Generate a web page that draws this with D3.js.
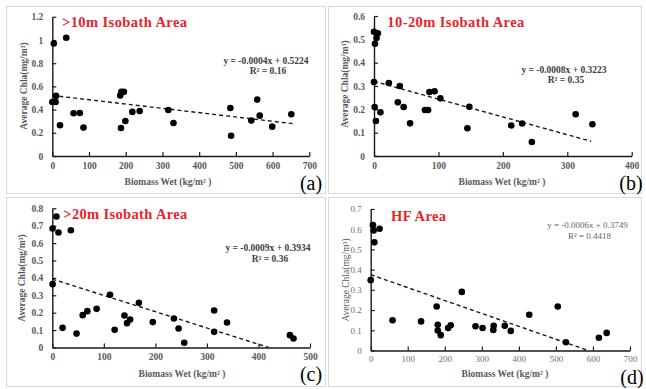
<!DOCTYPE html>
<html>
<head>
<meta charset="utf-8">
<script src="https://cdn.jsdelivr.net/npm/d3@7"></script>
<style>
  html, body { margin: 0; padding: 0; background: #fff; }
  svg { display: block; }
</style>
</head>
<body>
<svg id="chart" width="646" height="389"></svg>
<script>
// ---------------- DATA ----------------
const panelLabels = ["(a)", "(b)", "(c)", "(d)"];
const panelTitles = [">10m Isobath Area", "10-20m Isobath Area", ">20m Isobath Area", "HF Area"];
const equations = ["y = -0.0004x + 0.5224", "y = -0.0008x + 0.3223", "y = -0.0009x + 0.3934", "y = -0.0006x + 0.3749"];
const rSquared = ["R² = 0.16", "R² = 0.35", "R² = 0.36", "R² = 0.4418"];
const xAxisTitle = "Biomass Wet (kg/m² )";
const yAxisTitle = "Average Chla(mg/m³)";

// [biomass wet, average chla]
const pointsA = [[4,0.97],[38,1.02],[0,0.466],[9,0.466],[10,0.518],[21,0.265],[58,0.368],[75,0.371],[85,0.245],
  [185,0.521],[188,0.553],[195,0.553],[187,0.242],[199,0.302],[218,0.38],[238,0.388],[316,0.397],[330,0.285],
  [485,0.414],[487,0.175],[542,0.305],[558,0.486],[565,0.348],[599,0.253],[651,0.36]];
const pointsB = [[0,0.532],[6,0.526],[4,0.506],[1.5,0.481],[0,0.317],[23,0.313],[40,0.30],[1,0.21],[3,0.15],
  [10,0.187],[37,0.23],[46,0.21],[56,0.14],[79,0.197],[84,0.197],[86,0.274],[94,0.277],[103,0.247],[145,0.119],
  [148,0.211],[213,0.131],[230,0.139],[245,0.06],[313,0.179],[339,0.136]];
const pointsC = [[8,0.753],[0.6,0.684],[12,0.661],[36,0.674],[0.6,0.364],[20,0.113],[47,0.08],[59,0.186],[68,0.209],
  [86,0.222],[112,0.303],[121,0.102],[140,0.184],[145,0.14],[151,0.161],[168,0.257],[195,0.146],[236,0.167],
  [245,0.109],[256,0.027],[314,0.213],[314,0.09],[339,0.144],[461,0.071],[468,0.052]];
const pointsD = [[6,0.62],[8,0.594],[24,0.602],[10,0.535],[0,0.348],[59,0.15],[136,0.144],[178,0.218],[181,0.127],
  [181,0.099],[189,0.076],[209,0.111],[216,0.125],[246,0.29],[283,0.12],[302,0.111],[331,0.102],[332,0.122],
  [362,0.122],[378,0.097],[428,0.177],[505,0.218],[527,0.041],[616,0.063],[637,0.087]];

// trend line end points [x, y]
const trendA = [[0,0.522],[655,0.279]];
const trendB = [[0,0.32],[337,0.063]];
const trendC = [[0,0.393],[420,0]];
const trendD = [[0,0.375],[587,0]];

const xTicksA = [0,100,200,300,400,500,600,700];
const xTicksB = [0,100,200,300,400];
const xTicksC = [0,100,200,300,400,500];
const xTicksD = [0,100,200,300,400,500,600,700];
const yTicksA = [0,0.2,0.4,0.6,0.8,1,1.2];
const yTicksB = [0,0.1,0.2,0.3,0.4,0.5,0.6];
const yTicksC = [0,0.1,0.2,0.3,0.4,0.5,0.6,0.7,0.8];
const yTicksD = [0,0.1,0.2,0.3,0.4,0.5,0.6,0.7];

// ---------------- LAYOUT ----------------
const SERIF = "'Liberation Serif','Times New Roman',Times,serif";
const svg = d3.select("#chart");

const panels = [
  { pts: pointsA, trend: trendA, xt: xTicksA, yt: yTicksA, box: [6,6,325,193],
    xr: [52.3, 309.3], yr: [156, 16.8], bold: true, pad: 6,
    title: [62, 27.3, 125], eq: [266, 64.3, 74], lab: [311, 190], ylab: [24, 86], xlab: [168, 185] },
  { pts: pointsB, trend: trendB, xt: xTicksB, yt: yTicksB, box: [328,6,641,193],
    xr: [374, 631.7], yr: [156, 16], bold: true, pad: 6,
    title: [387.3, 26.5, 137], eq: [564, 72.7, 82.7], lab: [631, 190], ylab: [345, 84], xlab: [502, 185] },
  { pts: pointsC, trend: trendC, xt: xTicksC, yt: yTicksC, box: [6,197,325,386],
    xr: [52.3, 310], yr: [347.5, 208.3], bold: true, pad: 6,
    title: [63.3, 219.3, 124], eq: [268, 250.7, 262.3], lab: [311, 381], ylab: [22, 278], xlab: [182, 377] },
  { pts: pointsD, trend: trendD, xt: xTicksD, yt: yTicksD, box: [328,197,641,386],
    xr: [370.7, 630], yr: [350.5, 209], bold: false, pad: 5,
    title: [391, 221, 55], eq: [587.5, 228, 239.3], lab: [632, 383.5], ylab: [346, 280], xlab: [505, 377] }
];

panels.forEach((p, i) => {
  const g = svg.append("g");
  // panel frame
  g.append("rect")
    .attr("x", p.box[0] + 0.5).attr("y", p.box[1] + 0.5)
    .attr("width", p.box[2] - p.box[0]).attr("height", p.box[3] - p.box[1])
    .attr("fill", "#fff").attr("stroke", "#d9d9d9").attr("stroke-width", 1);

  const x = d3.scaleLinear().domain([p.xt[0], p.xt[p.xt.length - 1]]).range(p.xr);
  const y = d3.scaleLinear().domain([p.yt[0], p.yt[p.yt.length - 1]]).range(p.yr);

  const tickColor = p.bold ? "#595959" : "#6e6e6e";
  const tickWeight = p.bold ? "bold" : "normal";

  // axes
  const xAxis = d3.axisBottom(x).tickValues(p.xt).tickFormat(d3.format("~g"))
    .tickSize(-4).tickSizeOuter(0).tickPadding(p.pad);
  const yAxis = d3.axisLeft(y).tickValues(p.yt).tickFormat(d3.format("~g"))
    .tickSize(-4).tickSizeOuter(0).tickPadding(9);

  const gx = g.append("g").attr("transform", `translate(0,${p.yr[0]})`).call(xAxis);
  const gy = g.append("g").attr("transform", `translate(${p.xr[0]},0)`).call(yAxis);
  [gx, gy].forEach(ax => {
    ax.select(".domain").attr("stroke", "#1a1a1a").attr("stroke-width", 1.4);
    ax.selectAll(".tick line").attr("stroke", "#1a1a1a").attr("stroke-width", 1.2);
    ax.selectAll(".tick text")
      .attr("fill", tickColor).attr("font-family", SERIF)
      .attr("font-size", p.bold ? "9.5px" : "9px").attr("font-weight", tickWeight);
  });

  // trend line
  g.append("path")
    .datum(p.trend)
    .attr("d", d3.line().x(d => x(d[0])).y(d => y(d[1])))
    .attr("fill", "none").attr("stroke", "#1a1a1a")
    .attr("stroke-width", 1.4).attr("stroke-dasharray", "4,3");

  // points
  g.append("g").selectAll("circle").data(p.pts).join("circle")
    .attr("cx", d => x(d[0])).attr("cy", d => y(d[1])).attr("r", 3.3)
    .attr("fill", "#000");

  // title
  g.append("text")
    .attr("x", p.title[0]).attr("y", p.title[1])
    .attr("font-family", SERIF).attr("font-weight", "bold")
    .attr("font-size", "14.5px").attr("fill", "#e8232a")
    .attr("textLength", p.title[2]).attr("lengthAdjust", "spacing")
    .text(panelTitles[i]);

  // equation + R²
  const eqColor = p.bold ? "#404040" : "#666";
  g.append("text")
    .attr("x", p.eq[0]).attr("y", p.eq[1]).attr("text-anchor", "middle")
    .attr("font-family", SERIF).attr("font-weight", p.bold ? "bold" : "normal")
    .attr("font-size", p.bold ? "9.5px" : "9px").attr("fill", eqColor)
    .text(equations[i]);
  g.append("text")
    .attr("x", p.eq[0] + 2).attr("y", p.eq[2]).attr("text-anchor", "middle")
    .attr("font-family", SERIF).attr("font-weight", p.bold ? "bold" : "normal")
    .attr("font-size", p.bold ? "9.5px" : "9px").attr("fill", eqColor)
    .text(rSquared[i]);

  // axis titles
  g.append("text")
    .attr("x", p.xlab[0]).attr("y", p.xlab[1]).attr("text-anchor", "middle")
    .attr("font-family", SERIF).attr("font-weight", "bold")
    .attr("font-size", "9.5px").attr("fill", "#595959")
    .text(xAxisTitle);
  g.append("text")
    .attr("transform", `translate(${p.ylab[0]},${p.ylab[1]}) rotate(-90)`)
    .attr("text-anchor", "middle").attr("dy", "0.35em")
    .attr("font-family", SERIF).attr("font-weight", p.bold ? "bold" : "normal")
    .attr("font-size", "9.5px").attr("fill", "#595959")
    .text(yAxisTitle);

  // panel label
  g.append("text")
    .attr("x", p.lab[0]).attr("y", p.lab[1]).attr("text-anchor", "middle")
    .attr("font-family", SERIF).attr("font-size", "20px").attr("fill", "#000")
    .text(panelLabels[i]);
});
</script>
</body>
</html>
